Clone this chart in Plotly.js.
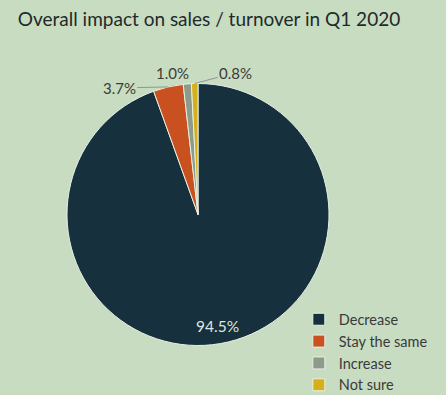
<!DOCTYPE html>
<html><head><meta charset="utf-8">
<script src="https://cdn.plot.ly/plotly-3.0.1.min.js"></script>
<style>html,body{margin:0;padding:0;background:#c8dcc1;}</style>
</head><body>
<div id="chart" style="width:446px;height:395px;"></div>
<script>
const categories = ["Decrease", "Stay the same", "Increase", "Not sure"];
const values = [94.5, 3.7, 1.0, 0.8];
const colors = ["#17303d", "#c8511f", "#8e9a8a", "#d6b01a"];

const W = 446, H = 395;
const domainX = [0.1502, 0.7377];
const domainY = [0.1253, 0.7886];
const R = Math.min((domainX[1]-domainX[0])*W, (domainY[1]-domainY[0])*H) / 2;
const cx = (domainX[0]+domainX[1])/2, cy = (domainY[0]+domainY[1])/2;

const trace = {
  type: "pie",
  labels: categories,
  values: values,
  sort: false,
  direction: "clockwise",
  rotation: 0,
  marker: {colors: colors, line: {color: "#e8efe4", width: 1}},
  textinfo: "none",
  domain: {x: domainX, y: domainY},
  automargin: false,
  hoverinfo: "label+percent"
};

// label placement (layout only): radius fraction and pixel offsets of the text
const labelStyle = [
  {f: 0.865, ax: 0, ay: 0, arrow: false, color: "#dfe6df"},
  {f: 1.0, ax: -49, ay: 1, arrow: true, color: "#3a3a3a"},
  {f: 1.0, ax: -15, ay: -11, arrow: false, color: "#3a3a3a"},
  {f: 1.0, ax: 41, ay: -11, arrow: true, color: "#3a3a3a"}
];

const total = values.reduce((a,b)=>a+b, 0);
let cum = 0;
const annotations = values.map((v, i) => {
  const mid = (cum + v/2) / total * 2 * Math.PI;
  cum += v;
  const s = labelStyle[i];
  const x = cx + s.f * R * Math.sin(mid) / W;
  const y = cy + s.f * R * Math.cos(mid) / H;
  const a = {
    x: x, y: y, xref: "paper", yref: "paper",
    text: v.toFixed(1) + "%",
    font: {family: "Lato, sans-serif", size: i === 0 ? 15.5 : 15, color: s.color},
    showarrow: true, ax: s.ax, ay: s.ay, arrowhead: 0, arrowwidth: 1,
    arrowcolor: s.arrow ? "#8c9890" : "rgba(0,0,0,0)", standoff: 0
  };
  if (i === 0) { a.showarrow = false; a.xanchor = "center"; a.yanchor = "middle"; }
  return a;
});

const layout = {
  width: W, height: H,
  margin: {l: 0, r: 0, t: 0, b: 0, autoexpand: false},
  paper_bgcolor: "#c8dcc1",
  plot_bgcolor: "#c8dcc1",
  title: {text: "Overall impact on sales / turnover in Q1 2020", x: 0.04, xanchor: "left", y: 0.95, yanchor: "middle",
          font: {family: "Lato, sans-serif", size: 19, color: "#1e2a2a"}},
  showlegend: true,
  legend: {x: 0.67, xanchor: "left", y: -0.016, yanchor: "bottom", bgcolor: "rgba(0,0,0,0)",
           font: {family: "Lato, sans-serif", size: 14.5, color: "#3a3a3a"}, traceorder: "normal"},
  annotations: annotations
};

Plotly.newPlot("chart", [trace], layout, {displayModeBar: false, staticPlot: true});
</script>
</body></html>
